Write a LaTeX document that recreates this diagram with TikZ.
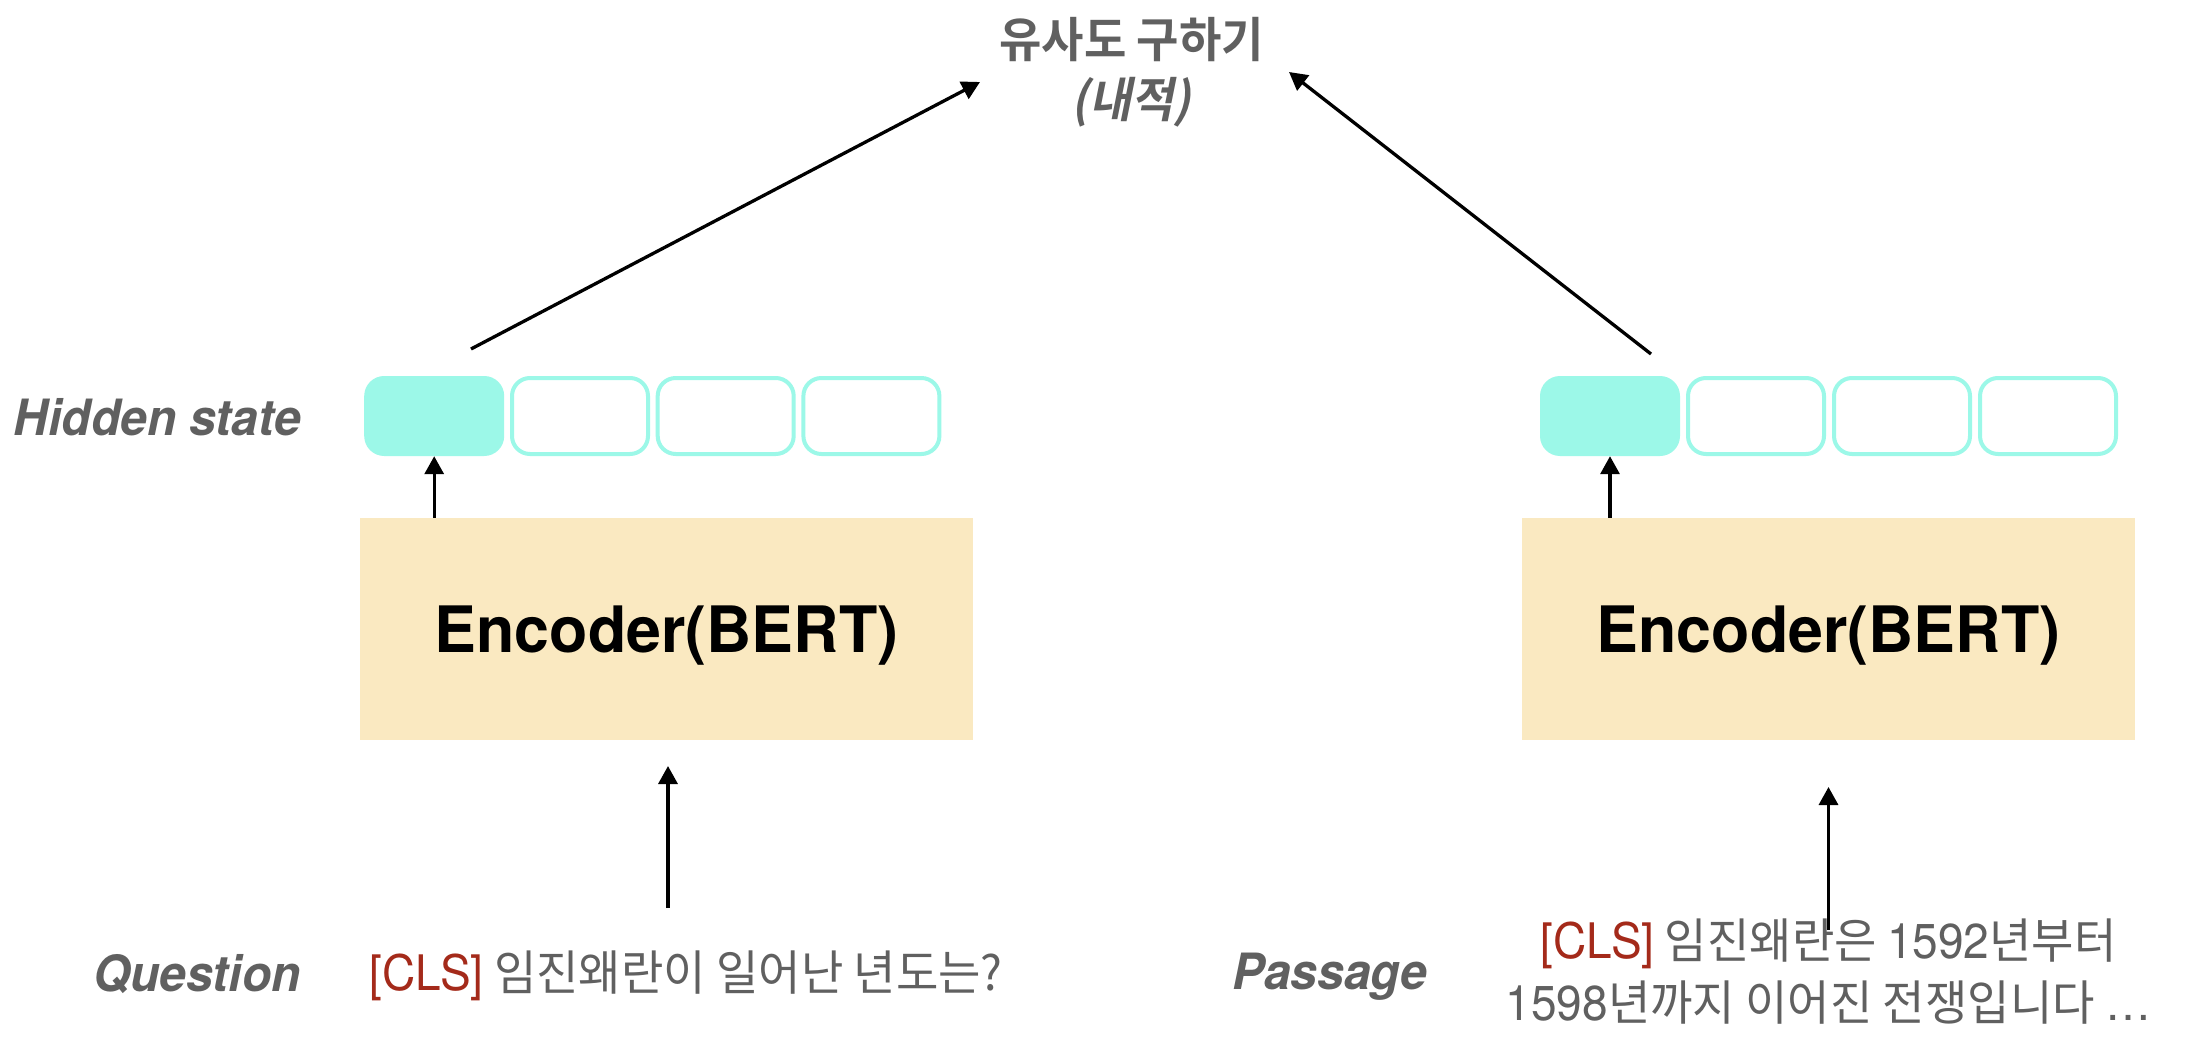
\documentclass[tikz,border=0pt]{standalone}
\usepackage{fontspec}
\usetikzlibrary{arrows.meta}
\setmainfont{TeX Gyre Heros}
\newfontfamily\heros[Scale=1.02,FakeStretch=0.94]{TeX Gyre Heros}
\newfontfamily\ko[FakeStretch=0.96,BoldFont={Noto Sans CJK KR Bold}]{Noto Sans CJK KR}
\newfontfamily\koslant[FakeStretch=0.96,FakeSlant=0.2]{Noto Sans CJK KR Bold}
\newfontfamily\lblfont[FakeStretch=0.96]{TeX Gyre Heros}
\newfontfamily\encfont[FakeStretch=0.98]{TeX Gyre Heros}
\definecolor{encyellow}{HTML}{FAE9C1}
\definecolor{cellaqua}{HTML}{9CF8E8}
\definecolor{txtgray}{HTML}{606060}
\definecolor{clsred}{HTML}{A42A1A}
\newcommand{\clstok}{{\heros\color{clsred}[CLS]}}

\begin{document}
\begin{tikzpicture}[x=1pt,y=-1pt,
    every node/.style={inner sep=0pt},
    lbl/.style={font=\lblfont\bfseries\itshape\fontsize{50}{60}\selectfont,text=txtgray},
    sent/.style={font=\ko\fontsize{48}{58}\selectfont,text=txtgray},
    title/.style={font=\ko\bfseries\fontsize{48}{58}\selectfont,text=txtgray},
    encbox/.style={fill=encyellow,minimum width=613pt,minimum height=222pt,
      text height=47pt,text depth=0pt,font=\encfont\bfseries\fontsize{64}{70}\selectfont},
    clscell/.style={fill=cellaqua,rounded corners=20pt,minimum width=140pt,minimum height=80pt},
    tokcell/.style={draw=cellaqua,line width=4pt,fill=white,rounded corners=18pt,
      minimum width=136pt,minimum height=76pt},
    flow/.style={-{Triangle[length=18pt,width=19pt]},line width=3.3pt}]
  \useasboundingbox (0,0) rectangle (2190,1046);
  \fill[white] (0,0) rectangle (2190,1046);
  % similarity
  \draw
    (1131.7,58) node[title,anchor=base] (sim) {유사도 구하기}
    (1131.5,118) node[anchor=base,font=\koslant\fontsize{48}{58}\selectfont,text=txtgray] (dot) {(내적)};
  % labels
  \draw
    (301,435) node[lbl,anchor=base east] (hidden) {Hidden state}
    (301,991) node[lbl,anchor=base east] (question) {Question}
    (1427,989) node[lbl,anchor=base east] (passage) {Passage};
  % hidden states
  \draw
    (434.2,416) node[clscell] (qc1) {}
    (580,416) node[tokcell] (qc2) {}
    (725.7,416) node[tokcell] (qc3) {}
    (871.4,416) node[tokcell] (qc4) {}
    (1610,416) node[clscell] (pc1) {}
    (1756,416) node[tokcell] (pc2) {}
    (1902,416) node[tokcell] (pc3) {}
    (2048,416) node[tokcell] (pc4) {};
  % encoders
  \draw
    (666.5,629) node[encbox] (qenc) {Encoder(BERT)}
    (1828.5,629) node[encbox] (penc) {Encoder(BERT)};
  % inputs
  \draw
    (369.3,990.7) node[sent,anchor=base west] (qtext) {\clstok{} 임진왜란이 일어난 년도는?}
    (1828.5,958) node[sent,anchor=base] (ptext1) {\clstok{} 임진왜란은 {\heros 1592}년부터}
    (1828.5,1020) node[sent,anchor=base] (ptext2) {{\heros 1598}년까지 이어진 전쟁입니다 {\heros …}};
  \coordinate (qout) at (471,349);
  \coordinate (qtop) at (980,82);
  \coordinate (pout) at (1651,354);
  \coordinate (ptop) at (1289,72);
  \coordinate (qin) at (668,908);
  \coordinate (qtip) at (668,766);
  \coordinate (pin) at (1828.5,930);
  \coordinate (ptip) at (1828.5,787);
  \draw[flow] (qout) -- (qtop);
  \draw[flow] (pout) -- (ptop);
  \draw[flow] (qc1 |- qenc.north) -- (qc1.south);
  \draw[flow] (pc1 |- penc.north) -- (pc1.south);
  \draw[flow] (qin) -- (qtip);
  \draw[flow] (pin) -- (ptip);
\end{tikzpicture}
\end{document}
